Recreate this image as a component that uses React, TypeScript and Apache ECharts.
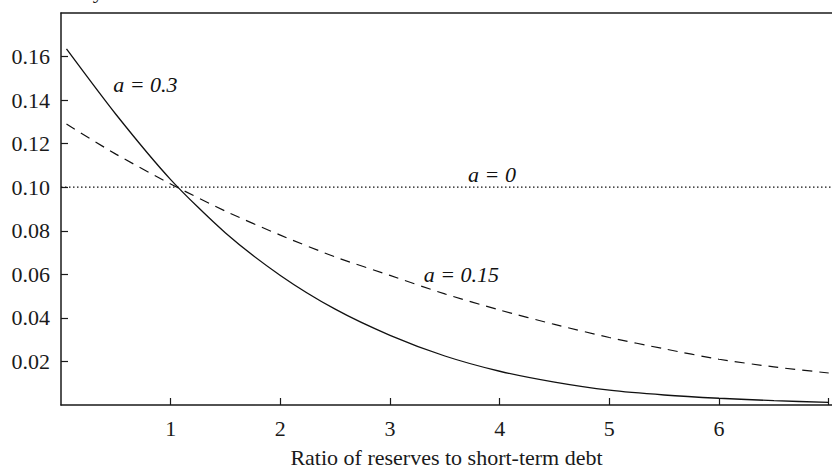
import React, { useEffect, useRef } from "react";
import * as echarts from "echarts";

// Ratio of reserves to short-term debt (x) and probability values
const ratio = [0.05, 0.5, 1.0, 1.5, 2.0, 2.5, 3.0, 3.5, 4.0, 4.5, 5.0, 5.5, 6.0, 6.5, 7.0];
const a030 = [0.1635, 0.1335, 0.1035, 0.079, 0.0595, 0.044, 0.032, 0.0225, 0.0155, 0.0105, 0.0068, 0.0046, 0.0031, 0.002, 0.0012];
const a015 = [0.129, 0.1152, 0.1015, 0.089, 0.078, 0.068, 0.0595, 0.051, 0.0436, 0.037, 0.031, 0.0258, 0.021, 0.0175, 0.0147];
const a000X = [0, 7.03];
const a000 = [0.1, 0.1];

const xTicks = [1, 2, 3, 4, 5, 6, 7];
const xLabels = [1, 2, 3, 4, 5, 6];
const yTicks = [0.02, 0.04, 0.06, 0.08, 0.1, 0.12, 0.14, 0.16];

const curveLabels = ["a = 0.3", "a = 0", "a = 0.15"];
const curveLabelX = [0.77, 3.93, 3.65];
const curveLabelY = [0.147, 0.106, 0.06];

const xName = "Ratio of reserves to short-term debt";
const yName = "Probability";

const FONT = "'Liberation Serif', 'Times New Roman', Times, serif";
const INK = "#1a1a1a";

export default function App() {
  const ref = useRef<HTMLDivElement>(null);
  useEffect(() => {
    if (!ref.current) return;
    const chart = echarts.init(ref.current, undefined, { renderer: "svg" });
    const zip = (xs: number[], ys: number[]) => xs.map((x, i) => [x, ys[i]]);
    chart.setOption({
      animation: false,
      backgroundColor: "#fff",
      textStyle: { fontFamily: FONT, color: INK },
      grid: { left: 61, top: 13, right: 0, bottom: 61, containLabel: false },
      xAxis: [
        {
          type: "value",
          min: 0,
          max: 7.03,
          name: xName,
          nameLocation: "middle",
          nameGap: 41,
          nameTextStyle: { fontFamily: FONT, fontSize: 22, color: INK },
          axisLine: { show: true, onZero: false, lineStyle: { color: INK, width: 1.5 } },
          axisTick: { show: true, inside: true, length: 7, customValues: xTicks, lineStyle: { color: INK, width: 1.2 } },
          axisLabel: { show: true, customValues: xLabels, margin: 12, fontFamily: FONT, fontSize: 22, color: INK },
          splitLine: { show: false },
        },
        {
          type: "value",
          position: "top",
          min: 0,
          max: 7.03,
          axisLine: { show: true, onZero: false, lineStyle: { color: INK, width: 1.5 } },
          axisTick: { show: false },
          axisLabel: { show: false },
          splitLine: { show: false },
        },
      ],
      yAxis: {
        type: "value",
        min: 0,
        max: 0.18,
        axisLine: { show: true, onZero: false, lineStyle: { color: INK, width: 1.5 } },
        axisTick: { show: true, inside: true, length: 7, customValues: yTicks, lineStyle: { color: INK, width: 1.2 } },
        axisLabel: {
          show: true,
          customValues: yTicks,
          margin: 11,
          fontFamily: FONT,
          fontSize: 22,
          color: INK,
          formatter: (v: number) => v.toFixed(2),
        },
        splitLine: { show: false },
      },
      graphic: [
        {
          type: "text",
          left: 6,
          top: -21,
          silent: true,
          style: { text: yName, fontFamily: FONT, fontSize: 22, fill: INK },
        },
      ],
      series: [
        {
          type: "line",
          name: "a = 0.3",
          data: zip(ratio, a030),
          smooth: 0.25,
          showSymbol: false,
          lineStyle: { color: "#111", width: 1.3, type: "solid" },
        },
        {
          type: "line",
          name: "a = 0.15",
          data: zip(ratio, a015),
          smooth: 0.25,
          showSymbol: false,
          lineStyle: { color: "#111", width: 1.2, type: [10, 7] },
        },
        {
          type: "line",
          name: "a = 0",
          data: zip(a000X, a000),
          showSymbol: false,
          lineStyle: { color: "#111", width: 1.2, type: [1.5, 2.5] },
        },
        {
          type: "scatter",
          name: "labels",
          symbolSize: 0,
          itemStyle: { opacity: 1 },
          data: curveLabels.map((t, i) => ({ name: t, value: [curveLabelX[i], curveLabelY[i]] })),
          label: {
            show: true,
            position: "inside",
            formatter: (p: any) => p.name,
            fontFamily: FONT,
            fontStyle: "italic",
            fontSize: 22,
            color: "#111",
            opacity: 1,
          },
          silent: true,
        },
      ],
    });
    return () => chart.dispose();
  }, []);
  return <div ref={ref} style={{ width: 832, height: 473, position: "absolute", left: 0, top: 0 }} />;
}
